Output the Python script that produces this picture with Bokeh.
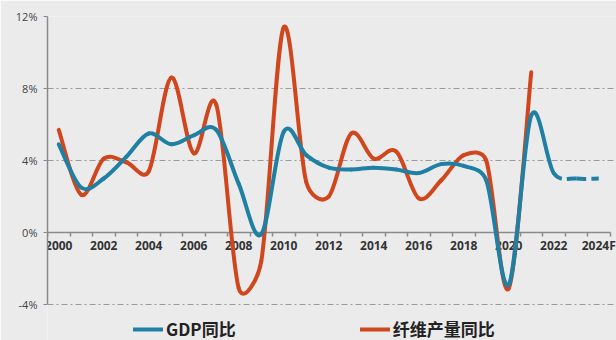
import numpy as np
from bokeh.plotting import figure
from bokeh.models import (Range1d, FixedTicker, PrintfTickFormatter, Legend,
                          LegendItem, ColumnDataSource)
from bokeh.core.properties import value
from bokeh.embed import file_html
from bokeh.resources import INLINE

# ---------------- data ----------------
years = list(range(2000, 2025))
gdp = [4.9, 2.5, 3.0, 4.2, 5.5, 4.9, 5.4, 5.7, 2.7, -0.1, 5.6, 4.3, 3.6, 3.5,
       3.6, 3.5, 3.3, 3.8, 3.7, 2.9, -2.9, 6.5, 3.3, 3.0, 3.0]
gdp_actual_end = 2022          # solid up to here, forecast (dashed) after
fiber_years = list(range(2000, 2022))
fiber = [5.7, 2.1, 4.1, 3.9, 3.4, 8.6, 4.4, 7.1, -3.1, -1.6, 11.4, 2.8, 2.0,
         5.5, 4.1, 4.5, 1.9, 2.9, 4.3, 4.0, -3.1, 8.9]
x_tick_years = list(range(2000, 2025, 2))
x_tick_labels = [str(y) for y in x_tick_years[:-1]] + ["2024F"]
y_ticks = [-4, 0, 4, 8, 12]
series_names = ["GDP同比", "纤维产量同比"]

# ---------------- layout ----------------
W, H = 616, 340
LEFT, TOP = 47, 16
PX_PER_YEAR = 22.5
PX_PER_PCT = 18.0
XA, XB = 1999.5, 2024.5        # category axis extent
YA, YB = -4, 12                # value axis extent
X_END = XA + (W - LEFT) / PX_PER_YEAR
Y_START = YB - (H - TOP) / PX_PER_PCT
sx, sy = PX_PER_YEAR, PX_PER_PCT

BLUE = "#1f80a3"
ORANGE = "#d0461d"
BG = "#ebebec"
AXIS = "#8a8a8a"


def smooth_segments(xs, ys):
    """Bezier control points (Excel-like smoothed line), computed with screen aspect."""
    P = np.column_stack([np.asarray(xs, float) * sx, np.asarray(ys, float) * sy])
    n = len(P)
    out = {k: [] for k in ["x0", "y0", "x1", "y1", "cx0", "cy0", "cx1", "cy1"]}
    for i in range(n - 1):
        p0 = P[max(i - 1, 0)]
        p1 = P[i]
        p2 = P[i + 1]
        p3 = P[min(i + 2, n - 1)]
        L = np.linalg.norm(p2 - p1)
        v1 = (p2 - p0) / 6.0
        v2 = (p3 - p1) / 6.0
        for v in (v1, v2):
            lv = np.linalg.norm(v)
            if lv > 0.5 * L and lv > 0:
                v *= 0.5 * L / lv
        c1 = p1 + v1
        c2 = p2 - v2
        out["x0"].append(p1[0] / sx); out["y0"].append(p1[1] / sy)
        out["x1"].append(p2[0] / sx); out["y1"].append(p2[1] / sy)
        out["cx0"].append(c1[0] / sx); out["cy0"].append(c1[1] / sy)
        out["cx1"].append(c2[0] / sx); out["cy1"].append(c2[1] / sy)
    return out


p = figure(width=W, height=H, output_backend="svg", toolbar_location=None,
           x_range=Range1d(XA, X_END), y_range=Range1d(Y_START, YB),
           x_axis_location="above",
           min_border_left=LEFT, min_border_right=0,
           min_border_top=TOP, min_border_bottom=0)
p.background_fill_color = BG
p.border_fill_color = BG
p.outline_line_color = None

# grid
p.xgrid.grid_line_color = None
p.ygrid.ticker = FixedTicker(ticks=[t for t in y_ticks if t != 0])
p.ygrid.grid_line_color = "#9a9a9a"
p.ygrid.grid_line_dash = "6 3 2 3"
p.ygrid.grid_line_width = 1

# y axis
p.yaxis.ticker = FixedTicker(ticks=y_ticks)
p.yaxis.bounds = (YA, YB)
p.yaxis.formatter = PrintfTickFormatter(format="%d%%")
p.yaxis.axis_line_color = AXIS
p.yaxis.axis_line_width = 1.5
p.yaxis.major_tick_line_color = AXIS
p.yaxis.major_tick_out = 4
p.yaxis.major_tick_in = 0
p.yaxis.minor_tick_line_color = None
p.yaxis.major_label_text_font = "Open Sans"
p.yaxis.major_label_text_font_size = "11px"
p.yaxis.major_label_text_color = "#444444"
p.yaxis.major_label_standoff = 6

# x axis line at y = 0 (ticks between categories, pointing down)
p.xaxis.fixed_location = 0
p.xaxis.bounds = (XA, XB)
p.xaxis.ticker = FixedTicker(ticks=x_tick_years,
                             minor_ticks=[y + 0.5 for y in range(1999, 2025)])
p.xaxis.axis_line_color = AXIS
p.xaxis.axis_line_width = 1.5
p.xaxis.major_tick_line_color = None
p.xaxis.minor_tick_line_color = AXIS
p.xaxis.minor_tick_line_width = 1.5
p.xaxis.minor_tick_out = 0
p.xaxis.minor_tick_in = 4
p.xaxis.major_tick_out = 0
p.xaxis.major_tick_in = 0
p.xaxis.major_label_text_font_size = "0px"
p.xaxis.major_label_text_color = None
p.xaxis.major_label_standoff = 0

# category labels just under the zero line
p.text(x=x_tick_years, y=[0] * len(x_tick_years), text=x_tick_labels,
       y_offset=13, text_align="center", text_baseline="middle",
       text_font=value("Open Sans"), text_font_style="bold",
       text_font_size="12px", text_color="#333333")

# series
g = smooth_segments(years, gdp)
n_solid = years.index(gdp_actual_end)
solid = {k: v[:n_solid] for k, v in g.items()}
dashed = {k: v[n_solid:] for k, v in g.items()}
f = smooth_segments(fiber_years, fiber)

r_f = p.bezier(source=ColumnDataSource(f), x0="x0", y0="y0", x1="x1", y1="y1",
               cx0="cx0", cy0="cy0", cx1="cx1", cy1="cy1",
               line_color=ORANGE, line_width=4, line_cap="round")
r_g = p.bezier(source=ColumnDataSource(solid), x0="x0", y0="y0", x1="x1", y1="y1",
               cx0="cx0", cy0="cy0", cx1="cx1", cy1="cy1",
               line_color=BLUE, line_width=4, line_cap="round")
r_gd = p.bezier(source=ColumnDataSource(dashed), x0="x0", y0="y0", x1="x1", y1="y1",
                cx0="cx0", cy0="cy0", cx1="cx1", cy1="cy1",
                line_color=BLUE, line_width=4, line_dash="10 5")
for r in (r_f, r_g, r_gd):
    r.level = "annotation"

# legend
legend = Legend(items=[LegendItem(label=series_names[0], renderers=[r_g]),
                       LegendItem(label=series_names[1], renderers=[r_f])],
                location=(86, -1), orientation="horizontal", spacing=124,
                glyph_width=30, glyph_height=20, label_standoff=3,
                label_text_font="Noto Sans CJK SC", label_text_font_style="bold",
                label_text_font_size="17px", label_text_color="#222222",
                background_fill_alpha=0, border_line_alpha=0,
                padding=0, margin=0)
p.add_layout(legend)

open("out.html", "w").write(file_html(p, INLINE))
